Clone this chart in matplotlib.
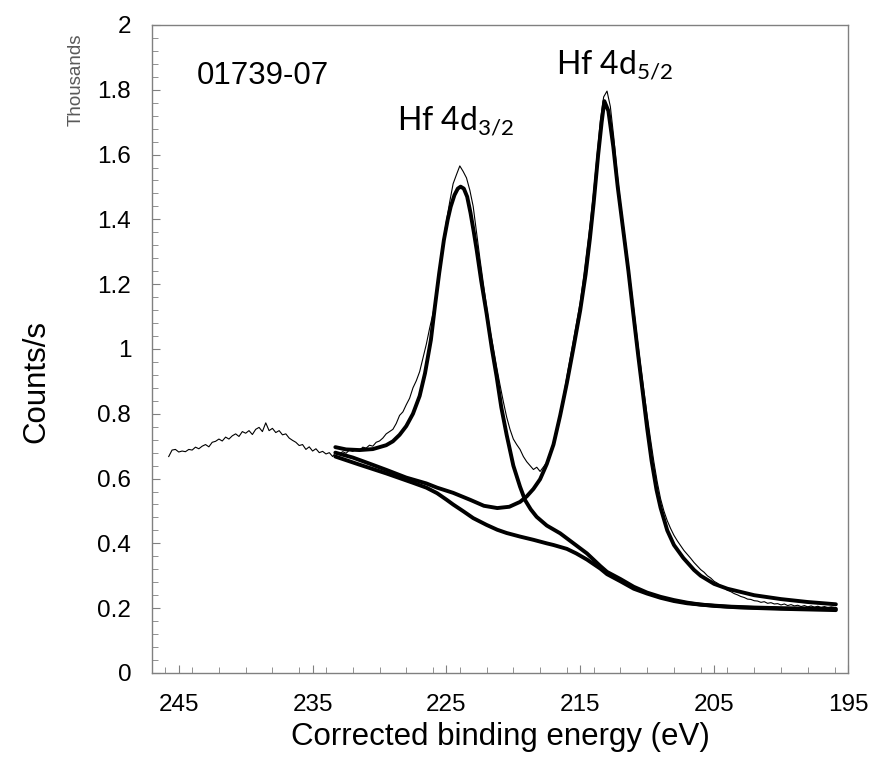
import numpy as np
import matplotlib
matplotlib.use("Agg")
import matplotlib.pyplot as plt
from matplotlib.ticker import MultipleLocator, FuncFormatter

plt.rcParams['font.family'] = ['Liberation Sans', 'DejaVu Sans']
plt.rcParams['mathtext.fontset'] = 'custom'
plt.rcParams['mathtext.rm'] = 'Lato'
plt.rcParams['mathtext.it'] = 'Lato:italic'
plt.rcParams['mathtext.bf'] = 'Lato:bold'

# measured spectrum (thousands of counts/s), 0.25 eV steps starting at 245.75 eV
raw_start = 245.75
raw_step = 0.25
raw_counts = [
    0.668, 0.688, 0.690, 0.682, 0.685, 0.683, 0.690, 0.688, 0.697, 0.692,
    0.700, 0.705, 0.698, 0.712, 0.715, 0.722, 0.716, 0.728, 0.722, 0.732,
    0.738, 0.730, 0.745, 0.740, 0.748, 0.736, 0.752, 0.758, 0.745, 0.772,
    0.748, 0.755, 0.742, 0.748, 0.735, 0.738, 0.725, 0.718, 0.712, 0.702,
    0.705, 0.690, 0.698, 0.685, 0.692, 0.680, 0.684, 0.676, 0.680, 0.668,
    0.682,
    0.676, 0.683, 0.678, 0.688, 0.684, 0.690, 0.686, 0.697, 0.694, 0.703,
    0.700, 0.712, 0.716, 0.725, 0.738, 0.745, 0.752, 0.770, 0.795, 0.806,
    0.828, 0.848, 0.880, 0.902, 0.930, 0.972, 1.015, 1.065, 1.110, 1.170,
    1.255, 1.330, 1.395, 1.455, 1.510, 1.538, 1.565, 1.548, 1.528, 1.490,
    1.440, 1.360, 1.280, 1.205, 1.130, 1.060, 1.005, 0.945, 0.890, 0.838,
    0.790, 0.752, 0.722, 0.705, 0.690, 0.668, 0.652, 0.640, 0.628, 0.635,
    0.622, 0.636, 0.650, 0.675, 0.705,
    0.748, 0.800, 0.855, 0.915, 0.972, 1.030, 1.088, 1.145, 1.222, 1.305,
    1.390, 1.485, 1.595, 1.705, 1.778, 1.796, 1.748, 1.655, 1.545, 1.452,
    1.372, 1.292, 1.205, 1.122, 1.035, 0.952, 0.872, 0.795, 0.722, 0.652,
    0.590, 0.538, 0.500, 0.470, 0.446, 0.425, 0.408, 0.393, 0.378, 0.366,
    0.354, 0.341, 0.330, 0.319, 0.311, 0.300, 0.293, 0.283, 0.277, 0.268,
    0.263, 0.255, 0.251, 0.245, 0.241, 0.236, 0.233, 0.228, 0.227, 0.223,
    0.222, 0.218, 0.220, 0.215, 0.217, 0.213, 0.214, 0.210, 0.213, 0.208,
    0.211, 0.207, 0.209, 0.205, 0.208, 0.204, 0.207, 0.203, 0.206, 0.202,
    0.205, 0.201, 0.204, 0.202,
]
raw_energy = raw_start - raw_step * np.arange(len(raw_counts))

# Hf 4d3/2 component + background
d32_energy = [233.3, 232.5, 231.5, 230.5, 229.5, 229.0, 228.5, 228.0, 227.5, 227.0,
              226.6, 226.16, 225.86, 225.54, 225.19, 224.9, 224.68, 224.4, 224.15, 223.94,
              223.7, 223.45, 223.2, 222.95, 222.74, 222.4, 222.0, 221.6, 221.25, 220.9,
              220.5, 220.0, 219.5, 219.13, 218.7, 218.26, 217.5, 216.5, 215.5, 214.5,
              213.5, 213.0, 212.0, 211.0, 210.0, 209.0, 208.0, 207.0, 206.0, 204.0,
              202.0, 200.0, 198.0, 195.9]
d32_counts = [0.697, 0.690, 0.688, 0.691, 0.703, 0.715, 0.735, 0.762, 0.800, 0.855,
              0.925, 1.028, 1.131, 1.234, 1.336, 1.400, 1.439, 1.475, 1.495, 1.501,
              1.495, 1.470, 1.420, 1.360, 1.306, 1.210, 1.110, 1.000, 0.915, 0.820,
              0.735, 0.640, 0.575, 0.534, 0.505, 0.482, 0.455, 0.431, 0.400, 0.369,
              0.330, 0.312, 0.290, 0.266, 0.248, 0.235, 0.225, 0.217, 0.211, 0.205,
              0.202, 0.200, 0.199, 0.198]

# Hf 4d5/2 component + background
d52_energy = [233.3, 232.0, 231.0, 229.5, 228.0, 226.5, 225.7, 224.5, 223.2, 222.2,
              221.2, 220.3, 219.5, 219.0, 218.5, 218.0, 217.5, 217.0, 216.5, 216.0,
              215.5, 215.0, 214.6, 214.28, 214.0, 213.66, 213.4, 213.2, 212.9, 212.53,
              212.2, 211.79, 211.4, 211.04, 210.67, 210.29, 210.0, 209.67, 209.3, 209.0,
              208.5, 208.0, 207.3, 206.5, 206.0, 205.0, 204.0, 203.0, 202.0, 200.0,
              198.0, 195.9]
d52_counts = [0.680, 0.665, 0.650, 0.627, 0.603, 0.585, 0.572, 0.556, 0.534, 0.516,
              0.509, 0.513, 0.528, 0.545, 0.568, 0.598, 0.645, 0.705, 0.795, 0.895,
              1.005, 1.120, 1.230, 1.340, 1.450, 1.600, 1.700, 1.765, 1.735, 1.624,
              1.500, 1.367, 1.240, 1.110, 0.980, 0.853, 0.755, 0.655, 0.565, 0.510,
              0.440, 0.395, 0.355, 0.318, 0.300, 0.275, 0.260, 0.250, 0.240, 0.228,
              0.219, 0.212]

# Shirley background
bg_energy = [233.3, 231.5, 229.5, 227.5, 226.5, 225.7, 225.0, 224.5, 223.7, 223.0,
             222.0, 221.2, 220.5, 219.5, 218.5, 217.5, 217.0, 216.0, 215.3, 214.5,
             213.5, 213.0, 212.0, 211.0, 210.0, 209.0, 208.0, 207.0, 205.0, 203.0,
             200.0, 195.9]
bg_counts = [0.668, 0.643, 0.616, 0.587, 0.572, 0.555, 0.535, 0.520, 0.498, 0.478,
             0.457, 0.442, 0.432, 0.421, 0.411, 0.400, 0.395, 0.383, 0.369, 0.350,
             0.322, 0.305, 0.283, 0.260, 0.245, 0.232, 0.222, 0.215, 0.207, 0.202,
             0.198, 0.194]

fig = plt.figure(figsize=(8.71, 7.57), dpi=100)
ax = fig.add_axes([0.1745, 0.111, 0.799, 0.856])

thick = dict(color='black', lw=2.8, solid_joinstyle='round', solid_capstyle='round')
ax.plot(raw_energy, raw_counts, color='black', lw=0.8)
ax.plot(bg_energy, bg_counts, **thick)
ax.plot(d32_energy, d32_counts, **thick)
ax.plot(d52_energy, d52_counts, **thick)

ax.set_xlim(247, 195)
ax.set_ylim(0, 2)
ax.xaxis.set_minor_locator(MultipleLocator(2))
ax.yaxis.set_major_locator(MultipleLocator(0.2))
ax.yaxis.set_minor_locator(MultipleLocator(0.04))
ax.set_xticks([245, 235, 225, 215, 205, 195])
ax.yaxis.set_major_formatter(FuncFormatter(lambda v, p: '%g' % round(v, 2)))

for s in ax.spines.values():
    s.set_color('#808080')
    s.set_linewidth(1.0)
ax.tick_params(which='both', direction='in', color='#808080', top=False, right=False)
ax.tick_params(which='major', length=6, labelsize=17.5, pad=15)
ax.tick_params(which='minor', length=4.5)

ax.set_xlabel('Corrected binding energy (eV)', fontsize=22.5)
ax.set_ylabel('Counts/s', fontsize=22.5)
ax.xaxis.set_label_coords(0.5, -0.076)
ax.yaxis.set_label_coords(-0.145, 0.45)

fig.text(76 / 871, 1 - 80 / 757, 'Thousands', rotation=90, ha='center', va='center',
         fontsize=13.5, color='#595959')

ax.text(0.065, 0.921, '01739-07', transform=ax.transAxes, fontsize=22.5, va='center')
ax.text(0.352, 0.8395, r'Hf 4d$_{\mathrm{3/2}}$', transform=ax.transAxes,
        family='Lato', fontsize=23, va='baseline')
ax.text(0.580, 0.926, r'Hf 4d$_{\mathrm{5/2}}$', transform=ax.transAxes,
        family='Lato', fontsize=23, va='baseline')

fig.savefig('out.png', dpi=100)
